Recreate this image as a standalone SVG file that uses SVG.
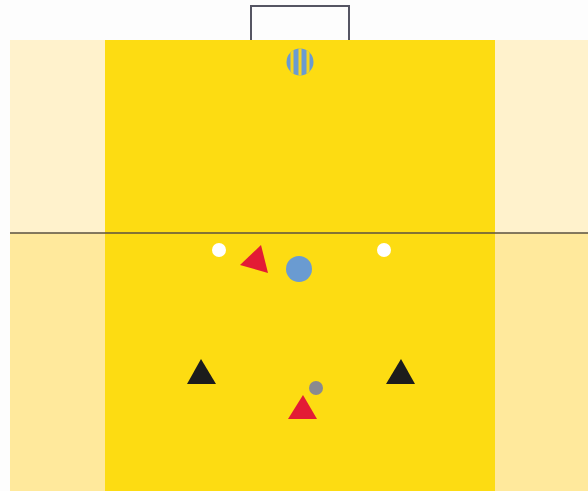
<svg xmlns="http://www.w3.org/2000/svg" width="588" height="491" viewBox="0 0 588 491">
<style>
.yl{fill:#FDDC12}
.side-top{fill:#FFF2CC}
.side-bot{fill:#FFE99C}
.pl-red{fill:#E31B35}
.pl-black{fill:#1C1C1C}
.cone{fill:#FFFFFF}
</style>
<defs>
<clipPath id="ballClip"><circle cx="300" cy="62" r="13.5"/></clipPath>
</defs>
<rect x="0" y="0" width="588" height="491" fill="#FDFDFD"/>
<g id="field">
<rect class="side-top" x="10" y="40" width="95" height="193"/>
<rect class="side-bot" x="10" y="233" width="95" height="258"/>
<rect class="side-top" x="495" y="40" width="93" height="193"/>
<rect class="side-bot" x="495" y="233" width="93" height="258"/>
<rect class="yl" x="105" y="40" width="390" height="451"/>
<line x1="10" y1="233" x2="588" y2="233" stroke="#5A5040" stroke-width="1.6"/>
</g>
<g id="goal">
<polyline points="251,40 251,6 349,6 349,40" fill="none" stroke="#555563" stroke-width="2"/>
</g>
<g id="striped-ball">
<circle cx="300" cy="62" r="13.5" fill="#6A9BD1"/>
<g clip-path="url(#ballClip)" fill="#F5D520">
<rect x="290.5" y="45" width="3" height="34"/>
<rect x="298.5" y="45" width="3" height="34"/>
<rect x="306.5" y="45" width="3" height="34"/>
</g>
</g>
<g id="cone-left"><circle class="cone" cx="219" cy="250" r="7"/></g>
<g id="cone-right"><circle class="cone" cx="384" cy="250" r="7"/></g>
<g id="red-player-top"><polygon class="pl-red" points="240,265 261,245 268,273"/></g>
<g id="blue-player"><circle cx="299" cy="269" r="13" fill="#6A9BD1"/></g>
<g id="black-left"><polygon class="pl-black" points="201,359 187,384 216,384"/></g>
<g id="black-right"><polygon class="pl-black" points="401,359 386,384 415,384"/></g>
<g id="ball"><circle cx="316" cy="388" r="7" fill="#8A8A8F"/></g>
<g id="red-player-bottom"><polygon class="pl-red" points="303,395 288,419 317,419"/></g>
<g id="connectors"></g>
</svg>
